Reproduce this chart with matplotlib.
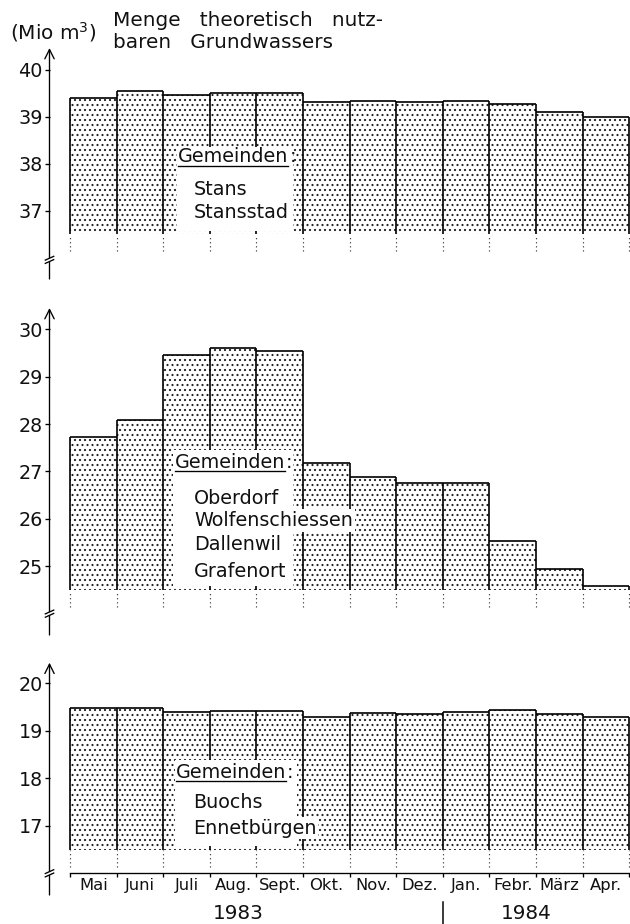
import matplotlib
matplotlib.use("Agg")
import matplotlib.pyplot as plt
from matplotlib.patches import Rectangle
import numpy as np

# Menge theoretisch nutzbaren Grundwassers (Mio m3), Mai 1983 - Apr. 1984
months = ["Mai", "Juni", "Juli", "Aug.", "Sept.", "Okt.", "Nov.", "Dez.",
          "Jan.", "Febr.", "März", "Apr."]
stans = [39.41, 39.56, 39.47, 39.50, 39.50, 39.32, 39.35, 39.32, 39.33, 39.27, 39.10, 38.99]
oberdorf = [27.73, 28.08, 29.46, 29.61, 29.55, 27.18, 26.88, 26.75, 26.76, 25.53, 24.94, 24.58]
buochs = [19.49, 19.48, 19.39, 19.41, 19.41, 19.30, 19.37, 19.35, 19.39, 19.43, 19.35, 19.30]
names_top = ["Stans", "Stansstad"]
names_mid = ["Oberdorf", "Wolfenschiessen", "Dallenwil", "Grafenort"]
names_bot = ["Buochs", "Ennetbürgen"]
years = ["1983", "1984"]

W, H, DPI = 630, 924, 120
plt.rcParams['font.family'] = ['DejaVu Sans']
plt.rcParams['hatch.color'] = '#222222'
plt.rcParams['hatch.linewidth'] = 0.7

fig = plt.figure(figsize=(W / DPI, H / DPI), dpi=DPI)
fig.patch.set_facecolor('white')

X0 = -0.44
X1 = 12.017
LW = 1.0
FS = 11.5
TXT = '#111111'


def px_axes(t, b):
    # axes from y-axis line (49.5 px) to right edge
    l, r = 49.5, 630
    return fig.add_axes([l / W, 1 - b / H, (r - l) / W, (b - t) / H])


def panel(ax, vals, base, yticks, ylim, brk, box, head, names, names_x, names_y, wide_name=None):
    vals = np.array(vals)
    x = np.arange(len(vals))
    ax.set_xlim(X0, X1)
    ax.set_ylim(*ylim)
    for s in ax.spines.values():
        s.set_visible(False)
    ax.set_xticks([])
    ax.set_yticks(yticks)
    ax.tick_params(axis='y', direction='out', length=3, width=0.8, pad=1,
                   labelsize=FS, labelcolor=TXT)

    # dotted bars
    ax.bar(x, vals - base, bottom=base, width=1, align='edge', facecolor='white',
           edgecolor='#222222', linewidth=0, hatch='....', zorder=1)
    ax.hlines(vals, x, x + 1, color='black', lw=LW, zorder=2)
    edges = np.arange(len(vals) + 1)
    tops = np.maximum(np.r_[base, vals], np.r_[vals, base])
    ax.vlines(edges, base, tops, color='black', lw=LW, zorder=2)
    ax.vlines(edges, base - 0.36, base - 0.02, color='#333333', lw=0.7,
              linestyles=(0, (1, 2.5)), zorder=2)

    # y axis with arrow and break
    ax.annotate('', xy=(X0, ylim[1]), xytext=(X0, ylim[0]), xycoords='data',
                arrowprops=dict(arrowstyle='->', lw=0.8, color='black',
                                shrinkA=0, shrinkB=0, mutation_scale=14),
                annotation_clip=False)
    ax.add_patch(Rectangle((X0 - 0.05, brk - 0.035), 0.1, 0.07, facecolor='white',
                           edgecolor='none', zorder=5, clip_on=False))
    for dy in (-0.035, 0.035):
        ax.plot([X0 - 0.09, X0 + 0.09], [brk + dy - 0.04, brk + dy + 0.04],
                color='black', lw=0.8, zorder=6, clip_on=False)

    # label box
    bx0, bx1, by1 = box
    ax.add_patch(Rectangle((bx0, base + 0.08), bx1 - bx0, by1 - base - 0.08,
                           facecolor='white', edgecolor='none', zorder=3))
    hx, hy = head
    t = ax.text(hx, hy, "Gemeinden", fontsize=FS, va='center', ha='left', zorder=4, color=TXT)
    fig.canvas.draw()
    bb = t.get_window_extent().transformed(ax.transData.inverted())
    ax.plot([bb.x0, bb.x1], [bb.y0 + 0.02, bb.y0 + 0.02], color='black', lw=0.8, zorder=4)
    ax.text(bb.x1 + 0.02, hy, ":", fontsize=FS, va='center', ha='left', zorder=4, color=TXT)
    for nm, ny in zip(names, names_y):
        bbox = None
        if nm == wide_name:
            bbox = dict(facecolor='white', edgecolor='none', pad=1)
        ax.text(names_x, ny, nm, fontsize=FS, va='center', ha='left',
                zorder=4, bbox=bbox, color=TXT)


# top panel
ax1 = px_axes(48, 279)
panel(ax1, stans, 36.5, [37, 38, 39, 40], (35.553, 40.468), 35.96,
      (2.30, 4.79, 38.36), (2.32, 38.15), names_top, 2.66, [37.45, 36.96])

# middle panel
ax2 = px_axes(308, 635)
panel(ax2, oberdorf, 24.5, [25, 26, 27, 28, 29, 30], (23.55, 30.449), 24.0,
      (2.21, 4.79, 27.45), (2.25, 27.18), names_mid, 2.66, [26.44, 25.97, 25.46, 24.90],
      wide_name="Wolfenschiessen")

# bottom panel
ax3 = px_axes(662.7, 895)
panel(ax3, buochs, 16.5, [17, 18, 19, 20], (15.543, 20.434), 16.0,
      (2.25, 4.87, 18.39), (2.27, 18.13), names_bot, 2.64, [17.50, 16.95],
      wide_name="Ennetbürgen")

# x axis with month labels
ax3.plot([0, 12], [16.0, 16.0], color='black', lw=0.8, clip_on=False, zorder=2)
ax3.vlines(np.arange(13), 15.92, 16.0, color='black', lw=0.8, clip_on=False)
for i, m in enumerate(months):
    ax3.text(i + 0.5, 15.74, m, fontsize=9.8, ha='center', va='center', clip_on=False, color=TXT)
ax3.text(3.6, 15.16, years[0], fontsize=12, ha='center', va='center', clip_on=False, color=TXT)
ax3.text(9.8, 15.16, years[1], fontsize=12, ha='center', va='center', clip_on=False, color=TXT)
ax3.plot([8.0, 8.0], [15.39, 14.92], color='black', lw=0.9, clip_on=False)

# header texts
fig.text(10 / W, 1 - 32 / H, "(Mio m$^3$)", fontsize=12, ha='left', va='center', color=TXT)
fig.text(113 / W, 1 - 21 / H, "Menge   theoretisch   nutz-", fontsize=12, ha='left', va='center', color=TXT)
fig.text(113 / W, 1 - 42 / H, "baren   Grundwassers", fontsize=12, ha='left', va='center', color=TXT)

fig.savefig("out.png", dpi=DPI, facecolor='white')
